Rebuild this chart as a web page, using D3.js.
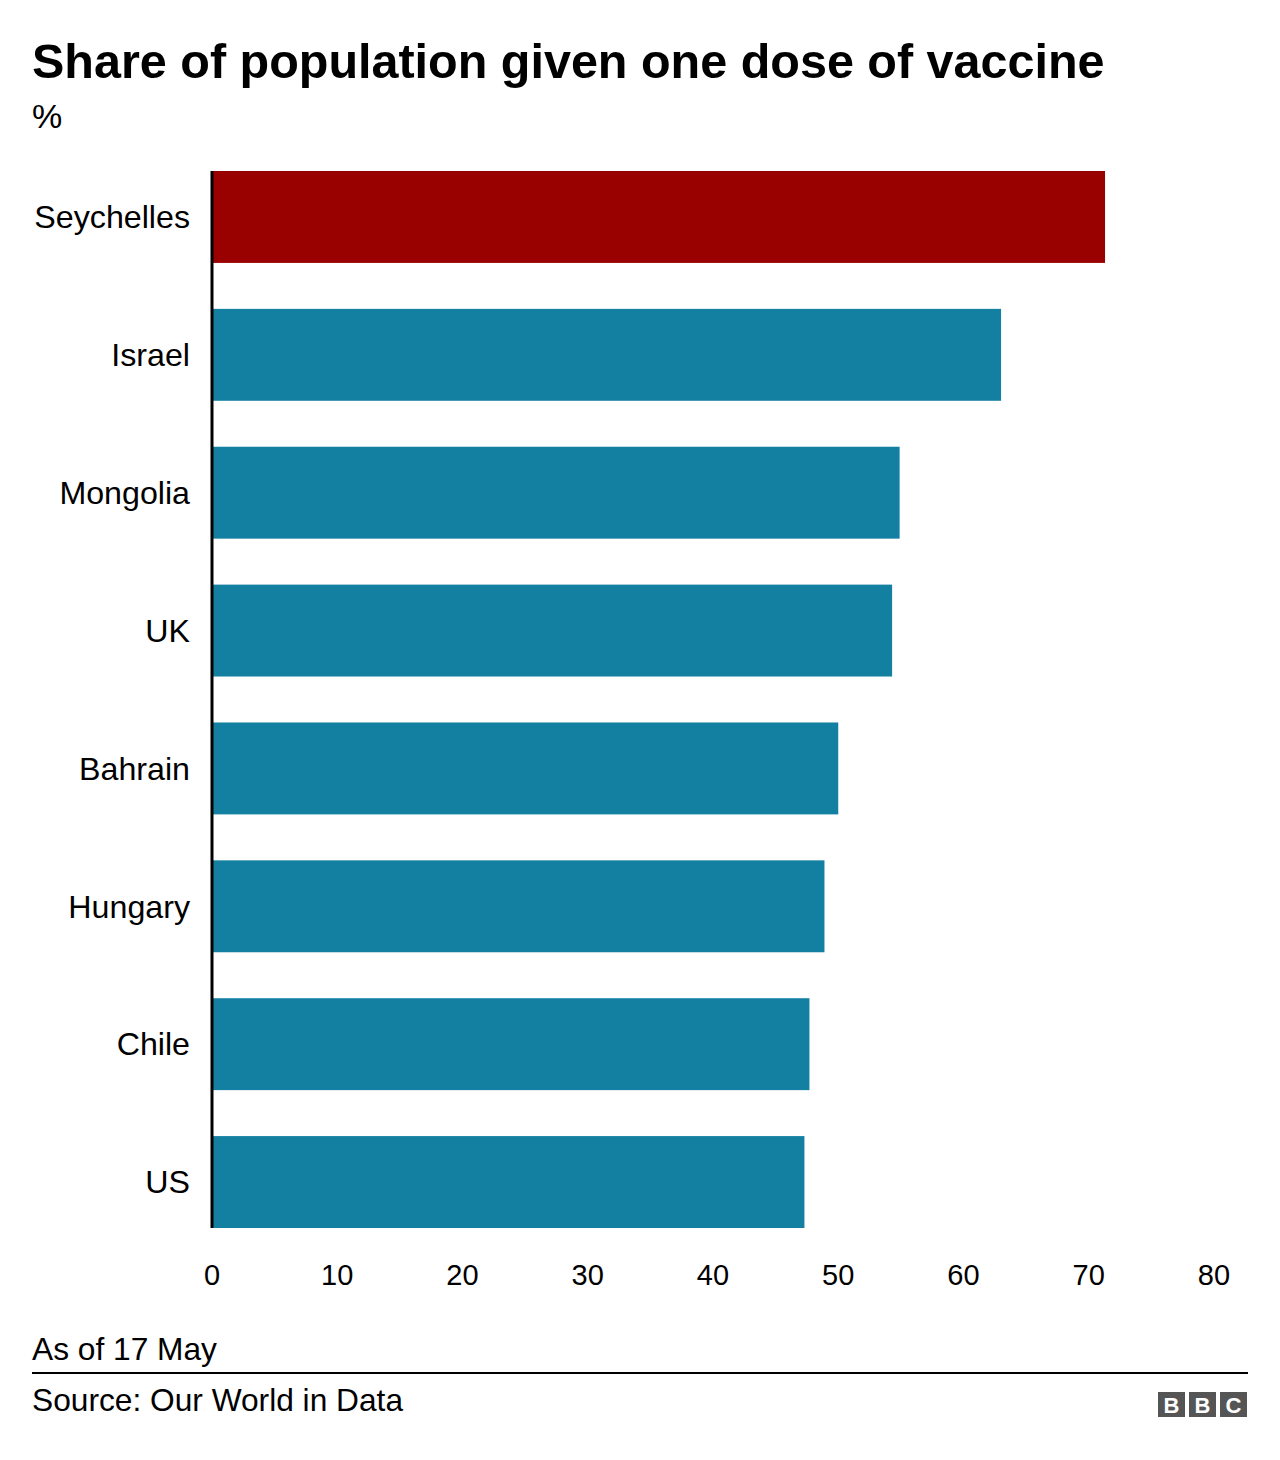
<!DOCTYPE html>
<html><head><meta charset="utf-8">
<script src="https://cdn.jsdelivr.net/npm/d3@7"></script>
<style>body{margin:0;background:#fff;font-family:"Liberation Sans",Arial,sans-serif}</style>
</head><body>
<svg id="c" width="1280" height="1460"></svg>
<script>
const countries = ["Seychelles","Israel","Mongolia","UK","Bahrain","Hungary","Chile","US"];
const values = [71.3,63.0,54.9,54.3,50.0,48.9,47.7,47.3];
const highlight = ["Seychelles"];
const ticks = [0,10,20,30,40,50,60,70,80];

const svg = d3.select("#c");
const x = d3.scaleLinear().domain([0,80]).range([212,1214]);
const y = d3.scaleBand().domain(countries).range([171,1228]).paddingInner(46/138).paddingOuter(0);
const bw = y.bandwidth();
svg.append("text").attr("x",32).attr("y",78).attr("font-size",48.5).attr("font-weight","bold").attr("fill","#000").text("Share of population given one dose of vaccine");
svg.append("text").attr("x",32).attr("y",128).attr("font-size",34).attr("fill","#000").text("%");

svg.selectAll("rect.bar").data(countries).join("rect")
  .attr("x",x(0)).attr("y",d=>y(d)).attr("height",bw)
  .attr("width",(d,i)=>x(values[i])-x(0))
  .attr("fill",d=>highlight.includes(d)?"#990000":"#1380A1");

svg.selectAll("text.lab").data(countries).join("text")
  .attr("x",190).attr("y",d=>y(d)+bw/2).attr("dy","0.35em").attr("text-anchor","end")
  .attr("font-size",32.2).attr("fill","#000").text(d=>d);

svg.append("line").attr("x1",212).attr("x2",212).attr("y1",171).attr("y2",1228).attr("stroke","#000").attr("stroke-width",3);

svg.selectAll("text.tick").data(ticks).join("text")
  .attr("x",d=>x(d)).attr("y",1285).attr("text-anchor","middle").attr("font-size",29).attr("fill","#000").text(d=>d);

svg.append("text").attr("x",32).attr("y",1360).attr("font-size",31.7).attr("fill","#000").text("As of 17 May");
svg.append("line").attr("x1",32).attr("x2",1248).attr("y1",1373).attr("y2",1373).attr("stroke","#000").attr("stroke-width",2);
svg.append("text").attr("x",32).attr("y",1411).attr("font-size",31.7).attr("fill","#000").text("Source: Our World in Data");
["B","B","C"].forEach((l,i)=>{
  svg.append("rect").attr("x",1158+i*31).attr("y",1392).attr("width",27).attr("height",25).attr("fill","#555");
  svg.append("text").attr("x",1158+i*31+13.5).attr("y",1413).attr("text-anchor","middle").attr("font-size",22).attr("font-weight","bold").attr("fill","#fff").text(l);
});
</script>
</body></html>
